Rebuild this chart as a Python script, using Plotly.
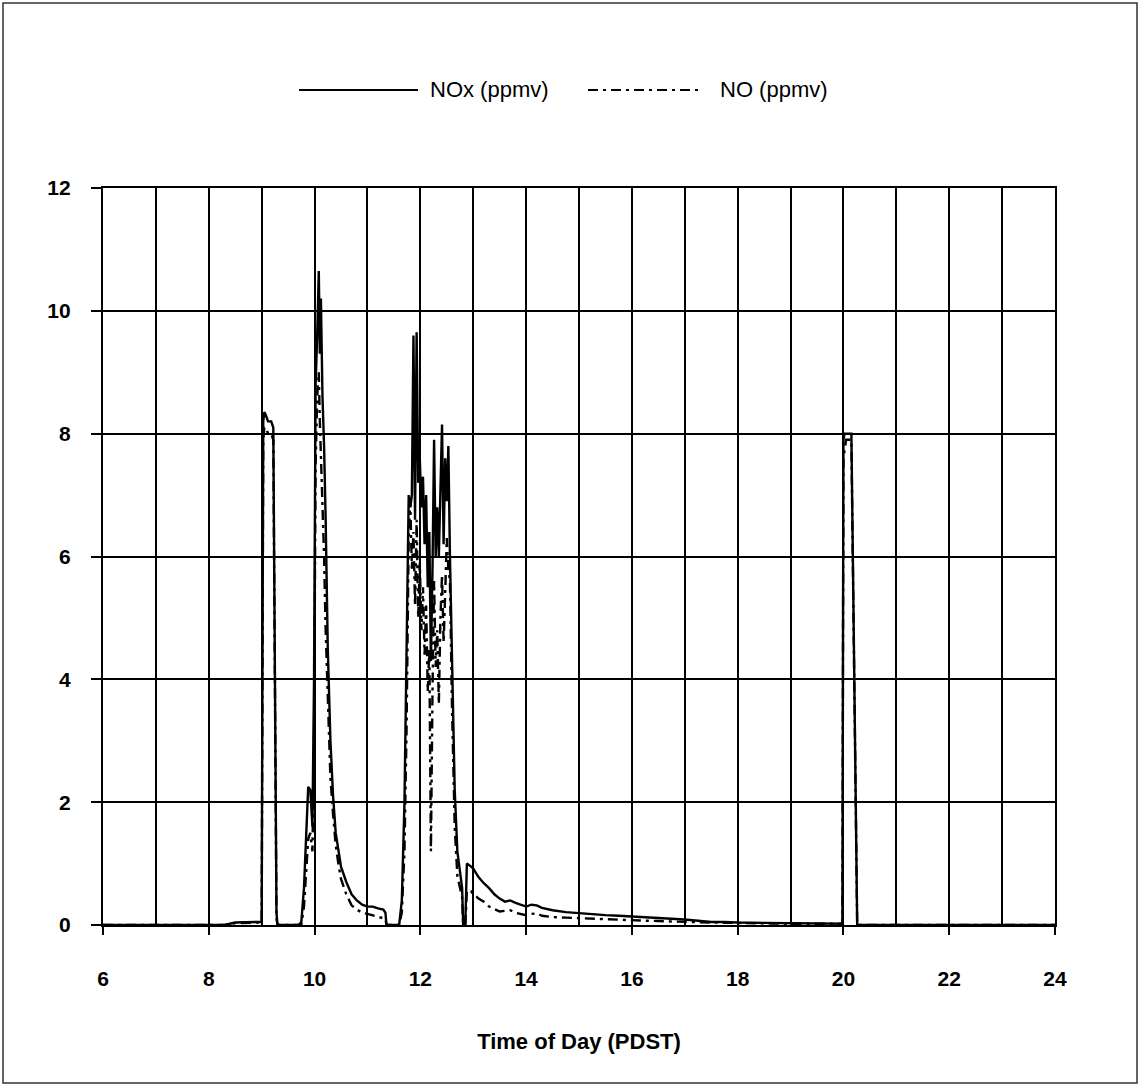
import plotly.graph_objects as go

# ---------------- data ----------------
time_hr = [6.0, 8.3, 8.5, 8.7, 8.9, 8.98, 9.0, 9.03, 9.05, 9.08, 9.12, 9.18, 9.22, 9.28, 9.3,
           9.7, 9.75, 9.8, 9.85, 9.88, 9.92, 9.96, 9.99, 10.02, 10.05, 10.08, 10.1, 10.12, 10.15,
           10.18, 10.21, 10.25, 10.3, 10.35, 10.4, 10.45, 10.5, 10.6, 10.7, 10.8, 10.9, 11.0,
           11.1, 11.2, 11.3, 11.34, 11.36, 11.6, 11.65, 11.7, 11.74, 11.78, 11.81, 11.84, 11.87,
           11.9, 11.93, 11.96, 11.99, 12.02, 12.05, 12.08, 12.11, 12.14, 12.17, 12.2, 12.23,
           12.26, 12.29, 12.32, 12.35, 12.38, 12.41, 12.44, 12.47, 12.5, 12.53, 12.56, 12.6,
           12.65, 12.7, 12.75, 12.79, 12.81, 12.85, 12.88, 12.92, 12.96, 13.0, 13.05, 13.1,
           13.2, 13.3, 13.4, 13.5, 13.6, 13.7, 13.8, 13.9, 14.0, 14.1, 14.2, 14.3, 14.5, 14.75,
           15.0, 15.25, 15.5, 15.75, 16.0, 16.25, 16.5, 16.75, 17.0, 17.25, 17.5, 17.75, 18.0,
           18.5, 19.0, 19.5, 19.98, 20.0, 20.02, 20.05, 20.1, 20.15, 20.2, 20.26, 20.3, 24.0]

nox_ppmv = [0, 0, 0.04, 0.05, 0.05, 0.05, 0.05, 8.2, 8.35, 8.3, 8.2, 8.2, 8.1, 0.2, 0,
            0, 0.05, 0.6, 1.6, 2.25, 2.2, 1.6, 4.0, 8.8, 9.6, 10.65, 9.3, 10.2, 8.6,
            7.8, 6.6, 4.5, 3.0, 2.1, 1.5, 1.2, 0.95, 0.7, 0.5, 0.4, 0.33, 0.3,
            0.3, 0.27, 0.25, 0.2, 0, 0, 0.4, 2.0, 4.5, 7.0, 6.8, 7.0, 9.6,
            6.6, 9.65, 7.2, 7.6, 6.8, 7.3, 6.2, 7.0, 5.5, 6.4, 4.3, 5.8,
            7.9, 6.0, 6.8, 6.0, 6.9, 8.15, 6.2, 7.6, 6.9, 7.8, 6.0, 4.0,
            2.2, 1.2, 0.9, 0.6, 0, 0, 1.0, 0.98, 0.95, 0.92, 0.85, 0.78,
            0.68, 0.6, 0.5, 0.43, 0.38, 0.4, 0.36, 0.33, 0.3, 0.33, 0.32, 0.28, 0.24, 0.21,
            0.19, 0.18, 0.16, 0.15, 0.14, 0.13, 0.12, 0.1, 0.09, 0.07, 0.05, 0.05, 0.04,
            0.035, 0.03, 0.025, 0.02, 7.9, 8.0, 8.0, 8.0, 8.0, 4.4, 0, 0, 0]

no_ppmv = [0, 0, 0.03, 0.04, 0.04, 0.04, 0.04, 7.9, 8.1, 8.1, 8.0, 8.0, 7.9, 0.1, 0,
           0, 0, 0.3, 0.9, 1.4, 1.5, 1.2, 3.0, 7.5, 8.6, 9.0, 8.2, 7.6, 7.1,
           6.0, 4.8, 3.6, 2.4, 1.8, 1.3, 1.0, 0.75, 0.5, 0.32, 0.25, 0.2, 0.18,
           0.16, 0.14, 0.12, 0.1, 0, 0, 0.2, 1.2, 3.2, 6.3, 6.9, 5.8, 6.4,
           5.2, 6.6, 5.0, 5.9, 4.8, 5.5, 4.4, 5.2, 3.8, 4.5, 1.2, 3.8,
           5.6, 4.2, 4.8, 3.6, 5.0, 5.7, 4.6, 5.4, 6.3, 5.8, 5.6, 3.5,
           1.6, 0.8, 0.6, 0.45, 0, 0, 0.55, 0.57, 0.55, 0.5, 0.47, 0.43,
           0.38, 0.3, 0.26, 0.22, 0.23, 0.24, 0.2, 0.18, 0.16, 0.18, 0.19, 0.15, 0.13, 0.12,
           0.11, 0.1, 0.09, 0.09, 0.08, 0.07, 0.065, 0.055, 0.05, 0.045, 0.04, 0.035, 0.03,
           0.025, 0.02, 0.02, 0.02, 7.6, 7.7, 7.9, 7.9, 7.9, 4.3, 0, 0, 0]

series_names = ["NOx (ppmv)", "NO (ppmv)"]
x_tickvals = [6, 8, 10, 12, 14, 16, 18, 20, 22, 24]
y_tickvals = [0, 2, 4, 6, 8, 10, 12]
x_title = "Time of Day (PDST)"

# ---------------- layout geometry ----------------
W, H = 1140, 1086
L, R, T, B = 103, 1055, 188, 925
PW, PH = R - L, B - T

def px(xpix):
    return (xpix - L) / PW

def py(ypix):
    return (B - ypix) / PH

FONT = "Liberation Sans, Arial, sans-serif"
NO_DASH = "10px,5px,3px,5px"

fig = go.Figure()
fig.add_trace(go.Scatter(x=time_hr, y=nox_ppmv, mode="lines", name=series_names[0],
                         line=dict(color="black", width=2.4), showlegend=False))
fig.add_trace(go.Scatter(x=time_hr, y=no_ppmv, mode="lines", name=series_names[1],
                         line=dict(color="black", width=2.4, dash=NO_DASH), showlegend=False))

fig.update_layout(
    width=W, height=H,
    margin=dict(l=L, r=W - R, t=T, b=H - B, pad=0),
    paper_bgcolor="white", plot_bgcolor="white",
    font=dict(family=FONT, color="black"),
)

fig.update_xaxes(
    range=[6, 24], tickvals=x_tickvals, ticks="outside", ticklen=8, tickwidth=1.8,
    tickcolor="black", showgrid=True, gridcolor="black", gridwidth=2,
    minor=dict(dtick=1, tick0=6, showgrid=True, gridcolor="black", gridwidth=2, ticks=""),
    showline=True, linecolor="black", linewidth=2.2, mirror=True, zeroline=False,
    tickfont=dict(size=21, family=FONT, weight="bold"), ticklabelstandoff=26,
    title=dict(text="<b>" + x_title + "</b>", font=dict(size=22, family=FONT), standoff=44),
)
fig.update_yaxes(
    range=[0, 12], tickvals=y_tickvals, ticks="outside", ticklen=10, tickwidth=1.8,
    tickcolor="black", showgrid=True, gridcolor="black", gridwidth=2,
    showline=True, linecolor="black", linewidth=2.2, mirror=True, zeroline=False,
    tickfont=dict(size=21, family=FONT, weight="bold"), ticklabelstandoff=16,
)

# ---------------- custom legend (long line samples as in the reference) ----------------
leg_y = py(90)
fig.add_shape(type="line", xref="paper", yref="paper", x0=px(299), x1=px(418), y0=leg_y, y1=leg_y,
              line=dict(color="black", width=2))
fig.add_annotation(xref="paper", yref="paper", x=px(428), y=leg_y, text=series_names[0],
                   showarrow=False, xanchor="left", yanchor="middle",
                   font=dict(size=22, family=FONT, color="black"))
fig.add_shape(type="line", xref="paper", yref="paper", x0=px(588), x1=px(703), y0=leg_y, y1=leg_y,
              line=dict(color="black", width=2, dash=NO_DASH))
fig.add_annotation(xref="paper", yref="paper", x=px(718), y=leg_y, text=series_names[1],
                   showarrow=False, xanchor="left", yanchor="middle",
                   font=dict(size=22, family=FONT, color="black"))

# outer frame of the figure
fig.add_shape(type="rect", xref="paper", yref="paper", x0=px(3), x1=px(1137), y0=py(1083), y1=py(3),
              line=dict(color="#333333", width=1.5), layer="below")

fig.write_html("out.html")
